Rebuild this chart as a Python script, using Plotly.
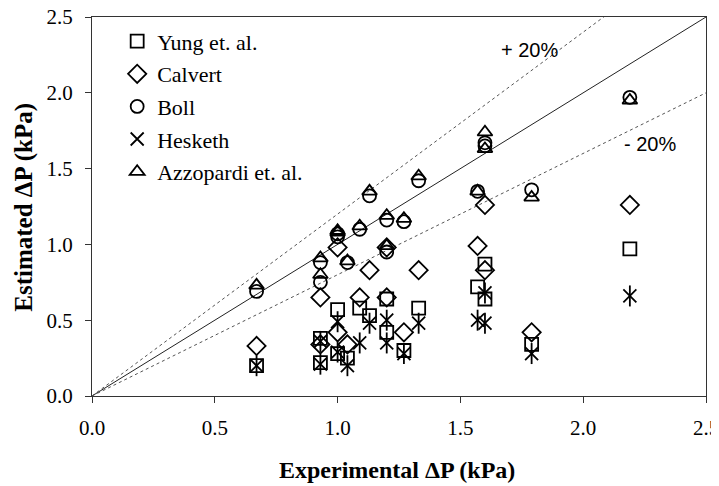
import plotly.graph_objects as go

# Experimental pressure drop (kPa)
experimental = [0.67, 0.93, 0.93, 1.00, 1.00, 1.04, 1.09, 1.13, 1.20, 1.20,
                1.27, 1.33, 1.57, 1.60, 1.60, 1.79, 2.19]
# Estimated pressure drop (kPa) by each correlation
yung = [0.20, 0.38, 0.22, 0.57, 0.28, 0.25, 0.58, 0.53, 0.64, 0.42,
        0.30, 0.58, 0.72, 0.87, 0.64, 0.34, 0.97]
calvert = [0.33, 0.65, 0.34, 0.98, 0.42, 0.34, 0.65, 0.83, 0.65, 0.98,
           0.42, 0.83, 0.99, 1.26, 0.83, 0.42, 1.26]
boll = [0.69, 0.88, 0.75, 1.07, 1.05, 0.88, 1.10, 1.32, 1.16, 0.95,
        1.15, 1.42, 1.35, 1.67, 1.65, 1.36, 1.97]
hesketh = [0.20, 0.36, 0.21, 0.49, 0.29, 0.20, 0.35, 0.48, 0.50, 0.35,
           0.28, 0.48, 0.50, 0.68, 0.48, 0.28, 0.66]
azzopardi = [0.73, 0.91, 0.80, 1.09, 1.08, 0.89, 1.12, 1.35, 1.19, 0.99,
             1.17, 1.45, 1.35, 1.74, 1.63, 1.31, 1.95]

# Reference lines
ref_x = [0.0, 2.5]
parity_y = [0.0, 2.5]
upper_y = [0.0, 3.0]   # +20 %
lower_y = [0.0, 2.0]   # -20 %

tick_vals = [0.0, 0.5, 1.0, 1.5, 2.0, 2.5]
tick_text = ["0.0", "0.5", "1.0", "1.5", "2.0", "2.5"]

SERIF = "Liberation Serif, Times New Roman, serif"
SANS = "Liberation Sans, Arial, sans-serif"

fig = go.Figure()

fig.add_trace(go.Scatter(x=ref_x, y=parity_y, mode="lines",
                         line=dict(color="#222222", width=1), showlegend=False,
                         hoverinfo="skip"))
fig.add_trace(go.Scatter(x=ref_x, y=upper_y, mode="lines",
                         line=dict(color="#555555", width=1, dash="3px,3px"),
                         showlegend=False, hoverinfo="skip"))
fig.add_trace(go.Scatter(x=ref_x, y=lower_y, mode="lines",
                         line=dict(color="#555555", width=1, dash="3px,3px"),
                         showlegend=False, hoverinfo="skip"))

series = [
    ("Yung et. al.", yung, "square-open", 13),
    ("Calvert", calvert, "diamond-open", 14),
    ("Boll", boll, "circle-open", 13),
    ("Hesketh", hesketh, "x-thin-open", 13),
    ("Azzopardi et. al.", azzopardi, "triangle-up-open", 13),
]

for name, vals, sym, size in series:
    fig.add_trace(go.Scatter(
        x=experimental, y=vals, mode="markers", name=name,
        legendgroup=name,
        marker=dict(symbol=sym, size=size, color="black",
                    line=dict(color="black", width=1.8)),
    ))
    if name == "Hesketh":
        fig.add_trace(go.Scatter(
            x=experimental, y=vals, mode="markers", name=name,
            legendgroup=name, showlegend=False,
            marker=dict(symbol="line-ns-open", size=size + 2, color="black",
                        line=dict(color="black", width=1.8)),
        ))

fig.add_annotation(x=1.78, y=2.28, text="+ 20%", showarrow=False,
                   font=dict(family=SANS, size=20, color="black"))
fig.add_annotation(x=2.27, y=1.66, text="- 20%", showarrow=False,
                   font=dict(family=SANS, size=20, color="black"))

# Axis titles
fig.add_annotation(xref="paper", yref="paper", x=0.497, y=-0.195,
                   text="<b>Experimental ΔP (kPa)</b>", showarrow=False,
                   xanchor="center", yanchor="middle",
                   font=dict(family=SERIF, size=24, color="black"))
fig.add_annotation(xref="paper", yref="paper", x=-0.111, y=0.499,
                   text="<b>Estimated ΔP (kPa)</b>", showarrow=False,
                   textangle=-90, xanchor="center", yanchor="middle",
                   font=dict(family=SERIF, size=25, color="black"))

axis_common = dict(
    range=[0, 2.5], tickvals=tick_vals, ticktext=tick_text,
    showgrid=False, zeroline=False, showline=True, mirror=True,
    linecolor="#333333", linewidth=1.3, ticks="outside", ticklen=6,
    tickcolor="#333333", tickwidth=1, automargin=False,
    ticklabeloverflow="allow",
    tickfont=dict(family=SERIF, size=21, color="black"),
)

fig.update_layout(
    width=711, height=478,
    margin=dict(l=84, r=13, t=9, b=90),
    paper_bgcolor="white", plot_bgcolor="white",
    xaxis=dict(**axis_common, ticklabelstandoff=7),
    yaxis=dict(**axis_common, ticklabelstandoff=8),
    legend=dict(x=0.041, y=0.991, xanchor="left", yanchor="top",
                bgcolor="rgba(0,0,0,0)", borderwidth=0, tracegroupgap=1,
                font=dict(family=SERIF, size=22, color="black")),
    showlegend=True,
)

fig.write_html("out.html")
